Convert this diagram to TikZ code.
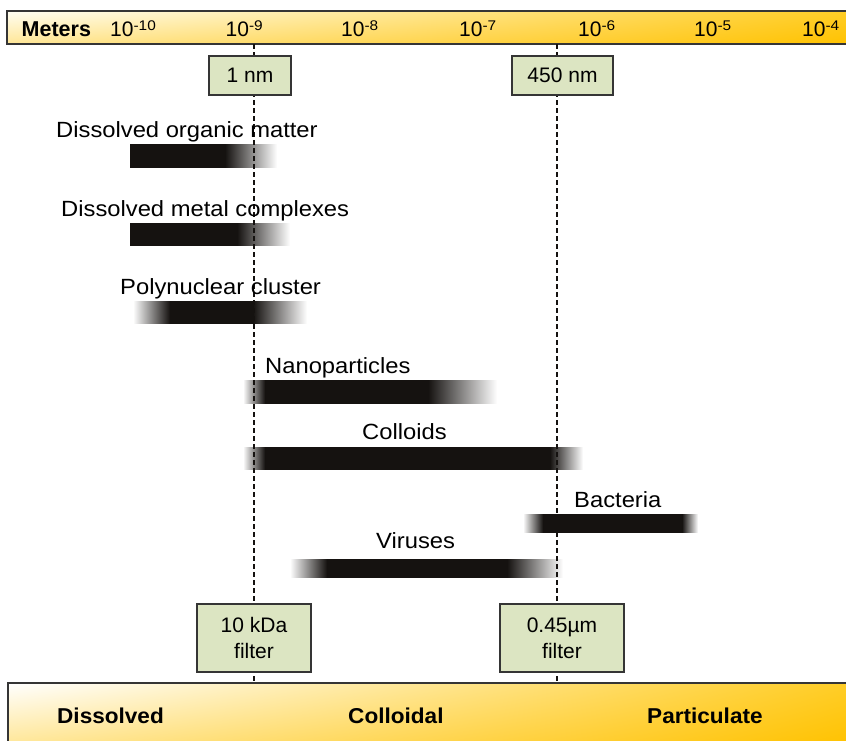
\documentclass[tikz,border=0pt]{standalone}
\usepackage{fontspec}
\setmainfont{Liberation Sans}
\newfontfamily\itemfam{Liberation Sans}[FakeStretch=1.08]
\newfontfamily\classfam{Liberation Sans}[FakeStretch=1.05]
\newfontfamily\expofam{Liberation Sans}[FakeStretch=1.1]
\usetikzlibrary{shadings}
\definecolor{barblack}{HTML}{151210}
\definecolor{boxfill}{HTML}{DCE5C2}
\definecolor{edge}{HTML}{353535}
\definecolor{gUL}{HTML}{FFFEF4}
\definecolor{gLL}{HTML}{FFE696}
\definecolor{gUR}{HTML}{FFCD26}
\definecolor{gLR}{HTML}{FFC200}
\newcommand\expo[1]{\raisebox{6.3pt}{\expofam\fontsize{14}{14}\selectfont #1}}
% #1 shading name, #2 y top, #3 y bottom, #4 start, #5 solid start, #6 solid end, #7 end
\newcommand\fadebar[7]{%
  \pgfmathsetmacro\fbB{25+50*(#5-#4)/(#7-#4)}%
  \pgfmathsetmacro\fbC{25+50*(#6-#4)/(#7-#4)}%
  \ifdim #4pt<#5pt
    \edef\fbtmp{\noexpand\pgfdeclarehorizontalshading{#1}{100bp}{color(0bp)=(white); color(25bp)=(white); color(\fbB bp)=(barblack); color(\fbC bp)=(barblack); color(75bp)=(white); color(100bp)=(white)}}%
  \else
    \edef\fbtmp{\noexpand\pgfdeclarehorizontalshading{#1}{100bp}{color(0bp)=(barblack); color(\fbC bp)=(barblack); color(75bp)=(white); color(100bp)=(white)}}%
  \fi
  \fbtmp
  \shade[shading=#1] (#4,#2) rectangle (#7,#3);}
\tikzset{
  toplab/.style={anchor=base west,inner sep=0pt,font=\fontsize{21}{21}\selectfont},
  itemlab/.style={anchor=base west,inner sep=0pt,font=\itemfam\fontsize{22}{26}\selectfont},
  classlab/.style={anchor=base west,inner sep=0pt,font=\classfam\bfseries\fontsize{21.5}{22}\selectfont},
  filterbox/.style={draw=edge,line width=1.5pt,fill=boxfill,inner sep=0pt,align=center},
  guide/.style={draw=barblack,line width=1.1pt,dash pattern=on 4.5pt off 3.5pt},
}
\begin{document}
\begin{tikzpicture}[x=1pt,y=-1pt]
\useasboundingbox (0,0) rectangle (846,740);
% top scale bar
\shade[upper left=gUL,lower left=gLL,upper right=gUR,lower right=gLR] (7,11) rectangle (850,44);
\draw[edge,line width=1.5pt] (850,11) -- (7,11) -- (7,44) -- (850,44);
% bottom class bar
\shade[upper left=white,lower left=gLL,upper right=gUR,lower right=gLR] (8,683) rectangle (850,745);
\draw[edge,line width=1.5pt] (850,683) -- (8,683) -- (8,745);
% size bars
\fadebar{domb}{144}{167}{130}{130}{225}{277}
\fadebar{dmcb}{223}{245}{130}{130}{237}{290}
\fadebar{polyb}{301}{323}{133}{170}{253}{307}
\fadebar{nanob}{380}{403}{243}{265}{428}{497}
\fadebar{collb}{447}{469}{243}{265}{550}{583}
\fadebar{bactb}{514}{532}{523}{543}{682}{698}
\fadebar{virb}{559}{577}{290}{327}{507}{563}
% guide lines
\coordinate (t1) at (254,44);
\coordinate (b1) at (254,683);
\coordinate (t2) at (557,44);
\coordinate (b2) at (557,683);
\draw[guide] (t1) -- (b1);
\draw[guide] (t2) -- (b2);
% filter boxes
\node[filterbox,minimum width=82pt,minimum height=39pt,font=\fontsize{21}{21}\selectfont] (nm1) at (250,75.5) {1 nm};
\node[filterbox,minimum width=101pt,minimum height=39pt,font=\fontsize{21}{21}\selectfont] (nm450) at (562.5,75.5) {450 nm};
\node[filterbox,minimum width=114pt,minimum height=68pt,font=\fontsize{21}{26}\selectfont] (kda) at (254,638) {10 kDa\\filter};
\node[filterbox,minimum width=124pt,minimum height=68pt,font=\fontsize{21}{26}\selectfont] (um) at (562,638) {0.45µm\\filter};
% scale labels
\node[anchor=base west,inner sep=0pt,font=\bfseries\fontsize{21.5}{21}\selectfont] (meters) at (21.5,36.5) {Meters};
\node[toplab] (e10) at (110,36.5) {10\expo{-10}};
\node[toplab] (e9) at (225.5,36.5) {10\expo{-9}};
\node[toplab] (e8) at (341,36.5) {10\expo{-8}};
\node[toplab] (e7) at (459,36.5) {10\expo{-7}};
\node[toplab] (e6) at (578,36.5) {10\expo{-6}};
\node[toplab] (e5) at (694,36.5) {10\expo{-5}};
\node[toplab] (e4) at (802,36.5) {10\expo{-4}};
% item labels
\node[itemlab] (dom) at (56,137) {Dissolved organic matter};
\node[itemlab] (dmc) at (61,216) {Dissolved metal complexes};
\node[itemlab] (poly) at (120,294) {Polynuclear cluster};
\node[itemlab] (nano) at (265,373) {Nanoparticles};
\node[itemlab] (coll) at (362,439) {Colloids};
\node[itemlab] (bact) at (574,507) {Bacteria};
\node[itemlab] (vir) at (376,548) {Viruses};
% class labels
\node[classlab] (cdis) at (57,723) {Dissolved};
\node[classlab] (ccol) at (348,723) {Colloidal};
\node[classlab] (cpar) at (647,723) {Particulate};
\end{tikzpicture}
\end{document}
